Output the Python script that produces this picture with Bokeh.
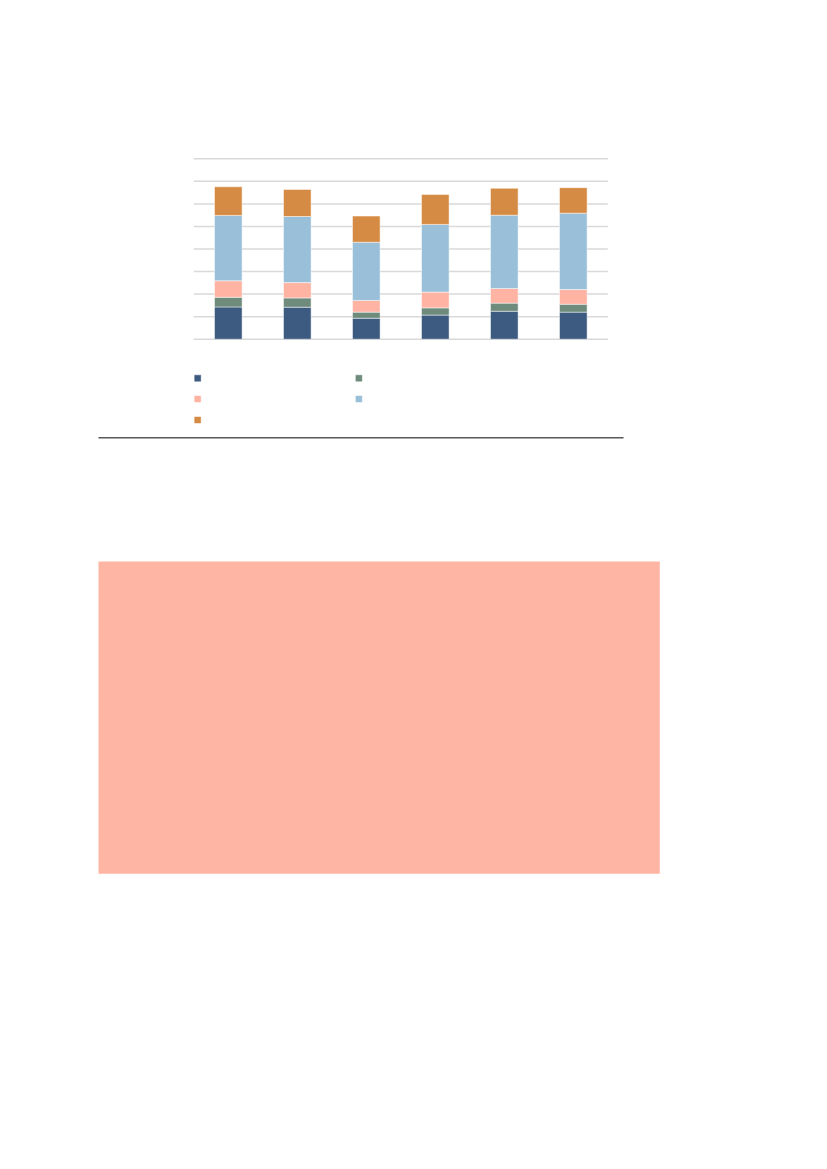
from bokeh.plotting import figure
from bokeh.models import Range1d
from bokeh.embed import file_html
from bokeh.resources import INLINE

# ---- data ----
categories = ["1", "2", "3", "4", "5", "6"]
series_names = ["s1", "s2", "s3", "s4", "s5"]
s1 = [1.43, 1.42, 0.93, 1.07, 1.24, 1.20]
s2 = [0.43, 0.41, 0.27, 0.32, 0.36, 0.35]
s3 = [0.73, 0.68, 0.52, 0.70, 0.65, 0.65]
s4 = [2.90, 2.93, 2.58, 3.00, 3.25, 3.39]
s5 = [1.27, 1.20, 1.16, 1.33, 1.19, 1.13]
y_ticks = [0, 1, 2, 3, 4, 5, 6, 7, 8]

colors = ["#3d5a80", "#6e8b7c", "#ffb3a3", "#9ac0d9", "#d68b44"]

# ---- layout constants (page pixels) ----
W, H = 811, 1100
fl, fr, ft, fb = 193.3, 607.3, 158.3, 338.7   # chart plot area
ymax = y_ticks[-1]
ncat = len(categories)
ux = (fr - fl) / ncat
uy = (fb - ft) / ymax

p = figure(width=W, height=H, output_backend="svg", toolbar_location=None,
           x_range=Range1d(0, W), y_range=Range1d(H, 0),
           min_border=0, outline_line_color=None)
p.axis.visible = False
p.grid.visible = False
p.background_fill_color = "white"
p.border_fill_color = "white"

p.extra_x_ranges = {"cx": Range1d(-fl / ux, ncat + (W - fr) / ux)}
p.extra_y_ranges = {"cy": Range1d(-(H - fb) / uy, ymax + ft / uy)}

# gridlines
p.segment(x0=[0] * len(y_ticks), x1=[ncat] * len(y_ticks), y0=y_ticks, y1=y_ticks,
          line_color="#d9d9d9", line_width=1.5,
          x_range_name="cx", y_range_name="cy")

# stacked bars
data = {"x": [i + 0.5 for i in range(ncat)]}
for n, s in zip(series_names, [s1, s2, s3, s4, s5]):
    data[n] = s
p.vbar_stack(series_names, x="x", width=0.4, source=data, color=colors,
             line_color="white", line_width=0.8, line_alpha=0.6,
             x_range_name="cx", y_range_name="cy")

# legend markers (two columns, row-major)
lx = [197.2, 358.4]
ly = [377.7, 398.5, 419.5]
mx = [lx[i % 2] for i in range(len(series_names))]
my = [ly[i // 2] for i in range(len(series_names))]
p.scatter(x=mx, y=my, marker="square", size=6, color=colors, line_alpha=0.5)

# horizontal rule
p.segment(x0=[98], x1=[623], y0=[437.3], y1=[437.3], line_color="#595959", line_width=1.5)

# salmon box
p.quad(left=[98], right=[659.3], top=[561], bottom=[873.3],
       fill_color="#ffb5a3", line_color=None)

open("out.html", "w").write(file_html(p, INLINE))
